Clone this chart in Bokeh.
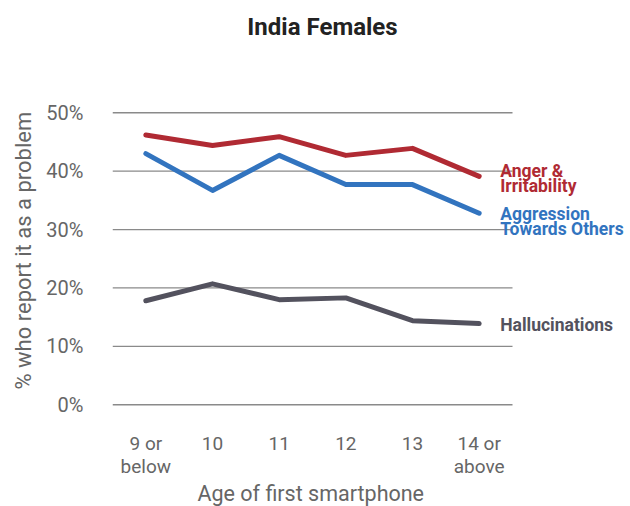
from bokeh.plotting import figure
from bokeh.models import Range1d, FixedTicker, Label, Title
from bokeh.embed import file_html
from bokeh.resources import INLINE

ages = ["9 or\nbelow", "10", "11", "12", "13", "14 or\nabove"]
anger = [46.2, 44.4, 45.9, 42.7, 43.9, 39.1]
aggression = [43.0, 36.7, 42.7, 37.7, 37.7, 32.8]
hallucinations = [17.8, 20.7, 18.0, 18.3, 14.4, 13.9]
y_ticks = [0, 10, 20, 30, 40, 50]
chart_title = "India Females"

series = [
    ("Anger &\nIrritability", anger, "#B02A33", -2),
    ("Aggression\nTowards Others", aggression, "#3274BF", -8),
    ("Hallucinations", hallucinations, "#53525E", -1),
]

FONT = "Roboto"
GREY = "#666666"
xs = list(range(len(ages)))
x_lo, x_hi = -0.5, len(ages) - 0.5
y_lo, y_hi = -0.3, 69.22

p = figure(width=630, height=506, output_backend="svg", toolbar_location=None,
           x_range=Range1d(x_lo, 7.27), y_range=Range1d(y_lo, y_hi),
           min_border_left=112, min_border_right=0, min_border_top=0,
           min_border_bottom=100)
p.outline_line_color = None
p.background_fill_color = "white"
p.border_fill_color = "white"

# chart title, drawn inside the (tall) frame above the plotting band
p.add_layout(Label(x=(x_lo + x_hi) / 2, y=y_hi, x_offset=10, y_offset=-26,
                   text=chart_title, text_font=FONT, text_font_style="bold",
                   text_font_size="24px", text_color="#222222",
                   text_align="center", text_baseline="middle"))

# horizontal grid lines spanning only the category band
p.segment(x0=[x_lo] * len(y_ticks), x1=[x_hi] * len(y_ticks), y0=y_ticks, y1=y_ticks,
          line_color="#8a8a8a", line_width=1.3)

for name, vals, color, yoff in series:
    p.line(xs, vals, line_color=color, line_width=5, line_cap="round", line_join="round")
    lbl = Label(x=xs[-1], y=vals[-1], x_offset=21, y_offset=yoff, text=name,
                text_color=color, text_font=FONT, text_font_style="bold",
                text_font_size="17.5px", text_baseline="middle", text_align="left",
                text_line_height=0.74)
    p.add_layout(lbl)

p.xgrid.grid_line_color = None
p.ygrid.grid_line_color = None

p.yaxis.ticker = FixedTicker(ticks=y_ticks)
p.yaxis.major_label_overrides = {t: f"{t}%" for t in y_ticks}
p.yaxis.axis_line_color = None
p.yaxis.major_tick_line_color = None
p.yaxis.minor_tick_line_color = None
p.yaxis.major_label_standoff = 23
p.yaxis.major_label_text_font = FONT
p.yaxis.major_label_text_font_size = "20px"
p.yaxis.major_label_text_color = GREY

p.xaxis.ticker = FixedTicker(ticks=xs)
p.xaxis.major_label_overrides = {i: a for i, a in enumerate(ages)}
p.xaxis.axis_line_color = None
p.xaxis.major_tick_line_color = None
p.xaxis.minor_tick_line_color = None
p.xaxis.major_label_standoff = 19
p.xaxis.major_label_text_font = FONT
p.xaxis.major_label_text_font_size = "19px"
p.xaxis.major_label_text_color = GREY
p.xaxis.major_label_text_line_height = 1.0

xlab = Title(text="Age of first smartphone", align="left", offset=85,
             text_font=FONT, text_font_style="normal", text_font_size="21.5px",
             text_color=GREY, standoff=-4)
p.add_layout(xlab, "below")

ylab = Title(text="% who report it as a problem", align="left", offset=17,
             text_font=FONT, text_font_style="normal", text_font_size="22px",
             text_color=GREY, standoff=16)
p.add_layout(ylab, "left")

open("out.html", "w").write(file_html(p, INLINE))
